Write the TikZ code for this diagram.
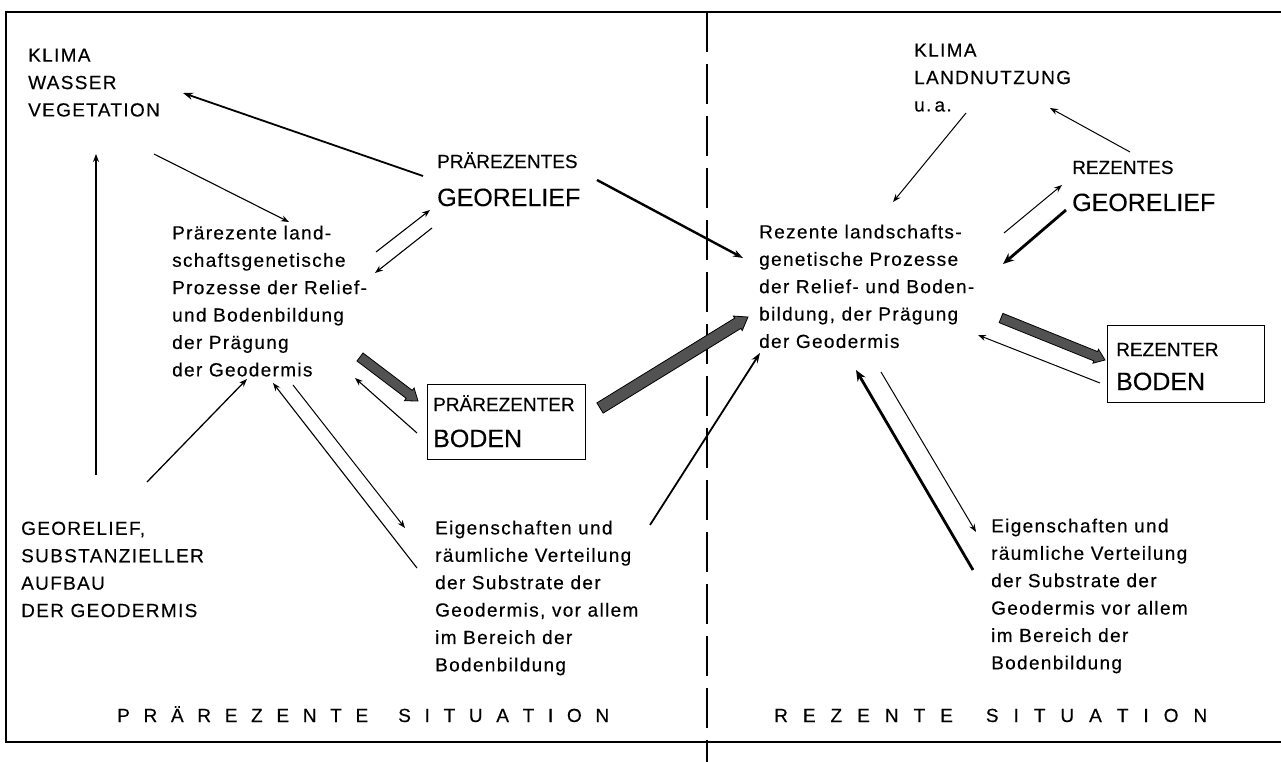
\documentclass[tikz,border=0pt]{standalone}
\usepackage{fontspec}
\setmainfont{Liberation Sans}[FakeBold=0.3]
\newfontfamily\lowtrk{Liberation Sans}[LetterSpace=7,FakeBold=0.3]
\usetikzlibrary{arrows.meta,calc}
\newcommand{\fatarrow}[5]{%
  \coordinate (fac) at ($(#2)!#5!(#1)$);
  \filldraw[fill=black!68, draw=black, line width=0.8pt, line join=miter]
   ($(#1)!#3!90:(#2)$) -- ($(fac)!#3!90:(#2)$) -- ($(fac)!#4!90:(#2)$) -- (#2)
   -- ($(fac)!#4!-90:(#2)$) -- ($(fac)!#3!-90:(#2)$) -- ($(#1)!#3!-90:(#2)$) -- cycle;}
\begin{document}
\begin{tikzpicture}[x=1pt,y=-1pt,
  lbl/.style={anchor=north west, inner sep=0pt, align=left, font=\lowtrk\fontsize{19}{27.4}\selectfont},
  small/.style={anchor=base west, inner sep=0pt, font=\fontsize{19}{23}\selectfont},
  big/.style={anchor=base west, inner sep=0pt, font=\fontsize{25}{30}\selectfont},
  sit/.style={anchor=base west, inner sep=0pt, font=\fontsize{19}{23}\selectfont},
  thinarr/.style={line width=1.1pt, -{Stealth[length=8pt,width=6pt]}},
  midarr/.style={line width=1.8pt, -{Stealth[length=10pt,width=7pt]}},
  heavyarr/.style={line width=2.8pt, -{Stealth[length=11pt,width=9pt]}},
  frameline/.style={line width=1.8pt},
  boxed/.style={draw, line width=1.3pt, inner sep=0pt, anchor=north west}
]
\useasboundingbox (0,0) rectangle (1281,762);
% frame
\coordinate (ftl) at (6,12); \coordinate (ftr) at (1281,12);
\coordinate (fbl) at (6,742); \coordinate (fbr) at (1281,742);
\draw[frameline] (ftr) -- (ftl) -- (fbl) -- (fbr);
\coordinate (dtop) at (707,12); \coordinate (dbot) at (707,762);
\draw[line width=1.4pt, dash pattern=on 40pt off 12pt] (dtop) -- (dbot);

% left texts
\node[lbl] (klimaL) at (28,48.4) {KLIMA\\WASSER\\VEGETATION};
\node[lbl] (prozL) at (172,225.4) {Prärezente land-\\schaftsgenetische\\Prozesse der Relief-\\und Bodenbildung\\der Prägung\\der Geodermis};
\node[small] (pgeoA) at (437,168) {PRÄREZENTES};
\node[big] (pgeo) at (437,206) {GEORELIEF};
\node[boxed, minimum width=158pt, minimum height=75pt] (pbox) at (427,384) {};
\node[small] (pboxA) at (433,411) {PRÄREZENTER};
\node[big] (pboxB) at (433,447) {BODEN};
\node[lbl] (georel) at (21,521.4) {GEORELIEF,\\SUBSTANZIELLER\\AUFBAU\\DER GEODERMIS};
\node[lbl] (eigL) at (435,520.4) {Eigenschaften und\\räumliche Verteilung\\der Substrate der\\Geodermis, vor allem\\im Bereich der\\Bodenbildung};
\node[sit] (sitL) at (117,722) {\spaceskip=13.7pt P R Ä R E Z E N T E\hspace{30pt}S I T U A T I O N};

% right texts
\node[lbl] (klimaR) at (914,43.4) {KLIMA\\LANDNUTZUNG\\u.\,a.};
\node[lbl] (prozR) at (759,224.4) {Rezente landschafts-\\genetische Prozesse\\der Relief- und Boden-\\bildung, der Prägung\\der Geodermis};
\node[small] (rgeoA) at (1072,174) {REZENTES};
\node[big] (rgeo) at (1072,211) {GEORELIEF};
\node[boxed, minimum width=157pt, minimum height=77pt] (rbox) at (1107,325) {};
\node[small] (rboxA) at (1116,356) {REZENTER};
\node[big] (rboxB) at (1116,390) {BODEN};
\node[lbl] (eigR) at (991,518.4) {Eigenschaften und\\räumliche Verteilung\\der Substrate der\\Geodermis vor allem\\im Bereich der\\Bodenbildung};
\node[sit] (sitR) at (774,722) {\spaceskip=15pt R E Z E N T E\hspace{33pt}S I T U A T I O N};

% connector end points
\coordinate (a1s) at (423,176);  \coordinate (a1e) at (183,93);
\coordinate (a2s) at (154,154);  \coordinate (a2e) at (289,222);
\coordinate (a3s) at (96,475);   \coordinate (a3e) at (96,154);
\coordinate (a4s) at (147,482);  \coordinate (a4e) at (247,379);
\coordinate (a5s) at (376,252);  \coordinate (a5e) at (430,210);
\coordinate (a6s) at (432,228);  \coordinate (a6e) at (375,273);
\coordinate (g1s) at (360,357);  \coordinate (g1e) at (418,401);
\coordinate (a8s) at (417,433);  \coordinate (a8e) at (355,378);
\coordinate (a9s) at (417,568);  \coordinate (a9e) at (273,383);
\coordinate (a10s) at (293,385); \coordinate (a10e) at (405,528);
\coordinate (a11s) at (597,180); \coordinate (a11e) at (743,258);
\coordinate (g2s) at (600,408);  \coordinate (g2e) at (748,317);
\coordinate (a13s) at (650,525); \coordinate (a13e) at (760,353);
\coordinate (a14s) at (966,113); \coordinate (a14e) at (893,202);
\coordinate (a15s) at (1130,152); \coordinate (a15e) at (1050,108);
\coordinate (a16s) at (1004,233); \coordinate (a16e) at (1062,185);
\coordinate (a17s) at (1066,210); \coordinate (a17e) at (1003,264);
\coordinate (g3s) at (1001,318); \coordinate (g3e) at (1105,360);
\coordinate (a19s) at (1100,383); \coordinate (a19e) at (978,335);
\coordinate (a20s) at (973,570); \coordinate (a20e) at (856,370);
\coordinate (a21s) at (881,372); \coordinate (a21e) at (976,532);

% left connectors
\draw[midarr] (a1s) -- (a1e);
\draw[thinarr] (a2s) -- (a2e);
\draw[thinarr, line width=1.4pt] (a3s) -- (a3e);
\draw[thinarr, line width=1.3pt] (a4s) -- (a4e);
\draw[thinarr] (a5s) -- (a5e);
\draw[thinarr] (a6s) -- (a6e);
\fatarrow{g1s}{g1e}{5pt}{8pt}{11pt}
\draw[thinarr] (a8s) -- (a8e);
\draw[thinarr] (a9s) -- (a9e);
\draw[thinarr, line width=1pt] (a10s) -- (a10e);
% crossing connectors
\draw[midarr, line width=2.4pt] (a11s) -- (a11e);
\fatarrow{g2s}{g2e}{6pt}{8.5pt}{12pt}
\draw[midarr] (a13s) -- (a13e);
% right connectors
\draw[thinarr, line width=1pt] (a14s) -- (a14e);
\draw[thinarr, line width=1pt] (a15s) -- (a15e);
\draw[thinarr, line width=1pt] (a16s) -- (a16e);
\draw[heavyarr] (a17s) -- (a17e);
\fatarrow{g3s}{g3e}{5pt}{7.5pt}{10pt}
\draw[thinarr, line width=1pt] (a19s) -- (a19e);
\draw[heavyarr] (a20s) -- (a20e);
\draw[thinarr, line width=1pt] (a21s) -- (a21e);
\end{tikzpicture}
\end{document}
